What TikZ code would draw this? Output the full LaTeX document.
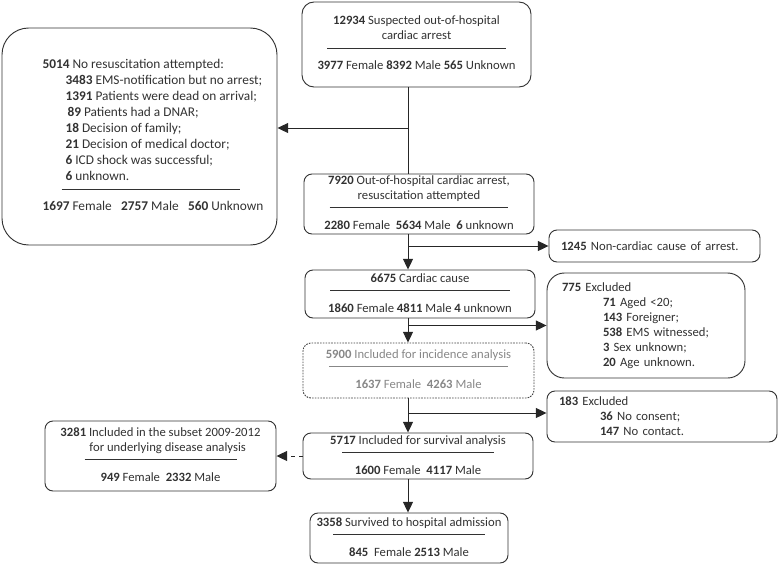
\documentclass[tikz,border=0pt]{standalone}
\usepackage{fontspec}
\setmainfont{Carlito}
\usetikzlibrary{arrows.meta}
\definecolor{inkgray}{RGB}{50,50,50}
\definecolor{palegray}{RGB}{135,135,135}
\newcommand{\sepline}[1]{\rule[5pt]{#1}{0.5pt}}
\tikzset{
  box/.style={draw=black!80, line width=0.7pt, rounded corners=6pt, inner sep=0pt,
    text=inkgray, font=\fontsize{9.5}{11.25}\selectfont},
  link/.style={line width=0.7pt, draw=black!85, -{Triangle[length=8pt,width=7.5pt]}},
}

\begin{document}
\begin{tikzpicture}[x=0.75pt,y=-0.75pt]
\useasboundingbox (0,0) rectangle (780,567);

\node[box, minimum width=171.75pt, minimum height=63.75pt, rounded corners=9pt] (arrest) at (416.5,44.5)
  {\begin{tabular}{@{}c@{}}\textbf{12934} Suspected out-of-hospital\\ cardiac arrest\\ \sepline{134pt}\\
   \textbf{3977} Female \textbf{8392} Male \textbf{565} Unknown\end{tabular}};

\node[box, minimum width=206.25pt, minimum height=162.75pt, rounded corners=20pt,
  font=\fontsize{10}{11.5}\selectfont] (noresus) at (139.5,136.5)
  {\def\arraystretch{1.04}\begin{tabular}{@{\hspace{20.25pt}}l@{}}
   \textbf{5014} No resuscitation attempted:\\
   \hspace*{17.25pt}\textbf{3483} EMS-notification but no arrest;\\
   \hspace*{17.25pt}\textbf{1391} Patients were dead on arrival;\\
   \hspace*{18.75pt}\textbf{89} Patients had a DNAR;\\
   \hspace*{17.25pt}\textbf{18} Decision of family;\\
   \hspace*{17.25pt}\textbf{21} Decision of medical doctor;\\
   \hspace*{17.25pt}\textbf{6} ICD shock was successful;\\
   \hspace*{17.25pt}\textbf{6} unknown.\\
   \hspace*{14.25pt}\sepline{134pt}\\[-1.5pt]
   \textbf{1697} Female\hspace{7pt}\textbf{2757} Male\hspace{7pt}\textbf{560} Unknown\end{tabular}};

\node[box, minimum width=172.5pt, minimum height=43.5pt] (attempt) at (419,204)
  {\begin{tabular}{@{}c@{}}\textbf{7920} Out-of-hospital cardiac arrest,\\ resuscitation attempted\\ \sepline{134pt}\\
   \textbf{2280} Female\ \ \textbf{5634} Male\ \ \textbf{6} unknown\end{tabular}};

\node[box, minimum width=158.25pt, minimum height=24pt, inner xsep=9pt, text width=140.25pt, align=left] (noncard) at (654.5,246)
  {\textbf{1245} Non-cardiac cause of arrest.};

\node[box, minimum width=172.5pt, minimum height=36pt] (cardiac) at (420,294)
  {\begin{tabular}{@{}c@{}}\textbf{6675} Cardiac cause\\ \sepline{135pt}\\
   \textbf{1860} Female \textbf{4811} Male \textbf{4} unknown\end{tabular}};

\node[box, minimum width=148.5pt, minimum height=78.75pt, rounded corners=13pt, inner xsep=11.25pt, text width=126pt, align=left] (excl1) at (646,325.5)
  {\textbf{775} Excluded\\
   \hspace*{30.75pt}\textbf{71} Aged <20;\\
   \hspace*{30.75pt}\textbf{143} Foreigner;\\
   \hspace*{30.75pt}\textbf{538} EMS witnessed;\\
   \hspace*{30.75pt}\textbf{3} Sex unknown;\\
   \hspace*{30.75pt}\textbf{20} Age unknown.};

\node[box, draw=black!75, dash pattern=on 1.2pt off 0.9pt, text=palegray, minimum width=173.25pt, minimum height=41.25pt] (incid) at (418.5,370.5)
  {\begin{tabular}{@{}c@{}}\textbf{5900} Included for incidence analysis\\ \sepline{134pt}\\
   \textbf{1637} Female\ \ \textbf{4263} Male\end{tabular}};

\node[box, minimum width=172.5pt, minimum height=38.25pt, inner xsep=9pt, text width=154.5pt, align=left] (excl2) at (662,416.5)
  {\textbf{183} Excluded\\
   \hspace*{30.75pt}\textbf{36} No consent;\\
   \hspace*{30.75pt}\textbf{147} No contact.};

\node[box, minimum width=172.5pt, minimum height=34.5pt] (surv) at (418,456)
  {\begin{tabular}{@{}c@{}}\textbf{5717} Included for survival analysis\\ \sepline{114pt}\\
   \textbf{1600} Female\ \ \textbf{4117} Male\end{tabular}};

\node[box, minimum width=173.25pt, minimum height=52.5pt] (subset) at (160.5,456)
  {\begin{tabular}{@{}l@{}}\textbf{3281} Included in the subset 2009-2012\\
   \hspace*{21.75pt}for underlying disease analysis\\
   \multicolumn{1}{@{}c@{}}{\sepline{114pt}}\\
   \multicolumn{1}{@{}c@{}}{\textbf{949} Female\ \ \textbf{2332} Male}\end{tabular}};

\node[box, minimum width=148.5pt, minimum height=37.5pt] (admit) at (409,538)
  {\begin{tabular}{@{}c@{}}\textbf{3358} Survived to hospital admission\\ \sepline{114pt}\\
   \textbf{845}\ \ Female \textbf{2513} Male\end{tabular}};

\coordinate (trunk) at (408,0);
\coordinate (toleft) at (408,128);
\coordinate (toexcl) at (408,413);

\draw[line width=0.7pt, draw=black!85] (arrest.south -| trunk) -- (attempt.north -| trunk);
\draw[link] (toleft) -- (toleft -| noresus.east);
\draw[link] (attempt.south -| trunk) -- (cardiac.north -| trunk);
\draw[link] (trunk |- noncard.west) -- (noncard.west);
\draw[link] (cardiac.south -| trunk) -- (incid.north -| trunk);
\draw[link] (trunk |- excl1.west) -- (excl1.west);
\draw[link] (incid.south -| trunk) -- (surv.north -| trunk);
\draw[link] (toexcl) -- (toexcl -| excl2.west);
\draw[link] (surv.south -| trunk) -- (admit.north -| trunk);
\draw[link, dashed] (surv.west) -- (subset.east);

\end{tikzpicture}
\end{document}
